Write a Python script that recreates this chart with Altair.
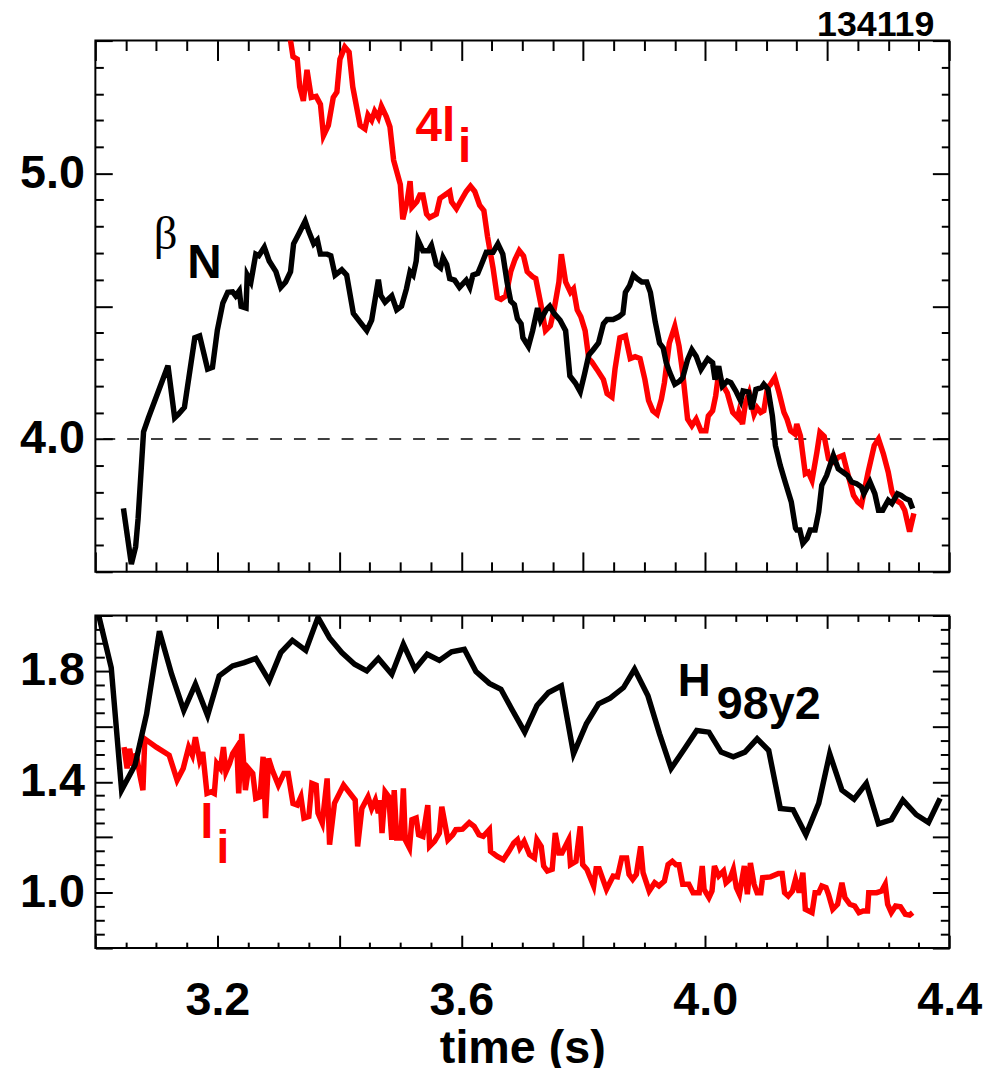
import altair as alt
import pandas as pd

# ---------------- data ----------------
bn_t = [3.046, 3.059, 3.066, 3.070, 3.079, 3.087, 3.119, 3.130, 3.136, 3.146, 3.163, 3.171, 3.184, 3.192,
        3.200, 3.209, 3.217, 3.225, 3.230, 3.236, 3.239, 3.247, 3.249, 3.255, 3.263, 3.268, 3.277, 3.285,
        3.296, 3.304, 3.312, 3.320, 3.325, 3.334, 3.344, 3.350, 3.358, 3.364, 3.369, 3.380, 3.386, 3.393,
        3.404, 3.412, 3.423, 3.434, 3.445, 3.453, 3.464, 3.468, 3.475, 3.486, 3.494, 3.502, 3.510, 3.516,
        3.521, 3.526, 3.529, 3.537, 3.546, 3.551, 3.559, 3.566, 3.570, 3.576, 3.581, 3.589, 3.597, 3.608,
        3.614, 3.619, 3.627, 3.633, 3.641, 3.652, 3.660, 3.668, 3.675, 3.681, 3.687, 3.692, 3.698, 3.701,
        3.710, 3.717, 3.725, 3.730, 3.739, 3.745, 3.752, 3.762, 3.771, 3.778, 3.787, 3.795, 3.802, 3.809,
        3.816, 3.825, 3.833, 3.839, 3.849, 3.858, 3.865, 3.869, 3.876, 3.882, 3.888, 3.896, 3.904, 3.910,
        3.918, 3.925, 3.931, 3.936, 3.942, 3.950, 3.958, 3.963, 3.971, 3.978, 3.985, 3.993, 4.004, 4.012,
        4.016, 4.022, 4.028, 4.036, 4.042, 4.050, 4.058, 4.062, 4.071, 4.076, 4.083, 4.092, 4.096, 4.103,
        4.110, 4.115, 4.123, 4.131, 4.141, 4.148, 4.150, 4.155, 4.160, 4.167, 4.172, 4.180, 4.186, 4.191,
        4.199, 4.210, 4.218, 4.226, 4.233, 4.240, 4.248, 4.256, 4.260, 4.270, 4.278, 4.284, 4.291, 4.300,
        4.306, 4.315, 4.321, 4.328, 4.335, 4.340]
bn_v = [3.739, 3.529, 3.594, 3.699, 4.027, 4.080, 4.276, 4.080, 4.093, 4.119, 4.381, 4.388, 4.263, 4.270,
        4.410, 4.512, 4.552, 4.554, 4.539, 4.558, 4.499, 4.493, 4.617, 4.591, 4.696, 4.690, 4.722, 4.670,
        4.630, 4.571, 4.591, 4.630, 4.735, 4.775, 4.821, 4.781, 4.735, 4.749, 4.696, 4.696, 4.690, 4.617,
        4.637, 4.617, 4.473, 4.440, 4.408, 4.447, 4.600, 4.540, 4.515, 4.539, 4.486, 4.500, 4.565, 4.630,
        4.617, 4.670, 4.749, 4.709, 4.709, 4.729, 4.657, 4.644, 4.683, 4.657, 4.604, 4.598, 4.571, 4.598,
        4.571, 4.617, 4.624, 4.657, 4.703, 4.703, 4.735, 4.696, 4.591, 4.519, 4.506, 4.453, 4.434, 4.381,
        4.348, 4.408, 4.493, 4.447, 4.486, 4.500, 4.473, 4.447, 4.408, 4.237, 4.211, 4.178, 4.244, 4.316,
        4.335, 4.362, 4.434, 4.450, 4.450, 4.460, 4.473, 4.552, 4.578, 4.617, 4.604, 4.591, 4.591, 4.552,
        4.440, 4.361, 4.343, 4.287, 4.249, 4.206, 4.218, 4.231, 4.299, 4.336, 4.312, 4.262, 4.302, 4.287,
        4.224, 4.274, 4.199, 4.218, 4.212, 4.181, 4.143, 4.181, 4.177, 4.112, 4.187, 4.193, 4.206, 4.187,
        4.087, 3.975, 3.900, 3.838, 3.763, 3.664, 3.657, 3.657, 3.607, 3.626, 3.657, 3.657, 3.726, 3.826,
        3.863, 3.938, 3.888, 3.875, 3.863, 3.838, 3.832, 3.819, 3.794, 3.838, 3.794, 3.732, 3.732, 3.769,
        3.757, 3.794, 3.788, 3.776, 3.769, 3.738]

li4_t = [3.316, 3.324, 3.331, 3.335, 3.341, 3.347, 3.354, 3.362, 3.369, 3.374, 3.382, 3.390, 3.396, 3.401,
         3.409, 3.416, 3.422, 3.434, 3.442, 3.447, 3.453, 3.458, 3.464, 3.469, 3.477, 3.483, 3.489, 3.500,
         3.504, 3.511, 3.516, 3.519, 3.527, 3.532, 3.537, 3.543, 3.548, 3.559, 3.565, 3.573, 3.581, 3.584,
         3.592, 3.600, 3.608, 3.615, 3.622, 3.630, 3.637, 3.643, 3.652, 3.659, 3.665, 3.673, 3.681, 3.688,
         3.695, 3.702, 3.708, 3.717, 3.722, 3.730, 3.738, 3.746, 3.752, 3.760, 3.764, 3.771, 3.779, 3.784,
         3.790, 3.796, 3.803, 3.809, 3.814, 3.822, 3.833, 3.839, 3.847, 3.852, 3.860, 3.869, 3.877, 3.885,
         3.893, 3.901, 3.907, 3.914, 3.921, 3.928, 3.933, 3.941, 3.950, 3.957, 3.963, 3.971, 3.978, 3.985,
         3.993, 4.001, 4.005, 4.012, 4.017, 4.022, 4.028, 4.036, 4.045, 4.053, 4.055, 4.061, 4.066, 4.072,
         4.080, 4.085, 4.091, 4.096, 4.102, 4.107, 4.114, 4.121, 4.129, 4.134, 4.140, 4.147, 4.150, 4.156,
         4.164, 4.169, 4.175, 4.183, 4.188, 4.195, 4.202, 4.210, 4.218, 4.226, 4.233, 4.243, 4.250, 4.256,
         4.267, 4.277, 4.284, 4.292, 4.300, 4.306, 4.313, 4.321, 4.327, 4.335, 4.342]
li4_v = [5.560, 5.440, 5.430, 5.326, 5.273, 5.390, 5.286, 5.290, 5.260, 5.142, 5.181, 5.286, 5.306, 5.430,
         5.476, 5.457, 5.326, 5.181, 5.168, 5.220, 5.200, 5.234, 5.210, 5.253, 5.214, 5.175, 5.050, 4.958,
         4.827, 4.893, 4.971, 4.873, 4.893, 4.919, 4.919, 4.847, 4.834, 4.847, 4.906, 4.919, 4.932, 4.893,
         4.867, 4.900, 4.932, 4.952, 4.932, 4.880, 4.860, 4.762, 4.644, 4.532, 4.526, 4.539, 4.630, 4.676,
         4.709, 4.689, 4.630, 4.611, 4.604, 4.512, 4.408, 4.427, 4.486, 4.591, 4.696, 4.591, 4.552, 4.565,
         4.486, 4.460, 4.408, 4.303, 4.290, 4.263, 4.224, 4.171, 4.158, 4.263, 4.381, 4.388, 4.303, 4.310,
         4.303, 4.224, 4.145, 4.106, 4.093, 4.150, 4.212, 4.361, 4.424, 4.349, 4.249, 4.075, 4.050, 4.075,
         4.031, 4.031, 4.087, 4.106, 4.162, 4.249, 4.206, 4.174, 4.100, 4.081, 4.100, 4.056, 4.137, 4.174,
         4.093, 4.118, 4.100, 4.106, 4.193, 4.206, 4.231, 4.174, 4.100, 4.075, 4.031, 4.019, 4.056, 4.012,
         3.869, 3.875, 3.844, 3.950, 4.025, 4.010, 3.925, 3.913, 3.931, 3.938, 3.875, 3.788, 3.763, 3.751,
         3.875, 3.975, 4.000, 3.944, 3.875, 3.801, 3.769, 3.757, 3.732, 3.651, 3.720]

h98_t = [3.000, 3.026, 3.043, 3.065, 3.084, 3.105, 3.125, 3.145, 3.164, 3.184, 3.203, 3.225, 3.244, 3.263,
         3.285, 3.304, 3.323, 3.345, 3.365, 3.384, 3.404, 3.425, 3.445, 3.464, 3.486, 3.505, 3.524, 3.544,
         3.564, 3.584, 3.605, 3.624, 3.646, 3.665, 3.684, 3.704, 3.724, 3.743, 3.764, 3.784, 3.805, 3.825,
         3.844, 3.866, 3.884, 3.906, 3.925, 3.944, 3.966, 3.986, 4.006, 4.026, 4.046, 4.065, 4.085, 4.104,
         4.123, 4.144, 4.165, 4.186, 4.204, 4.224, 4.244, 4.264, 4.284, 4.305, 4.324, 4.346, 4.366, 4.385]
h98_v = [2.050, 1.812, 1.370, 1.460, 1.645, 1.943, 1.788, 1.657, 1.752, 1.639, 1.782, 1.818, 1.830, 1.845,
         1.764, 1.866, 1.910, 1.874, 1.993, 1.919, 1.866, 1.824, 1.800, 1.845, 1.788, 1.896, 1.806, 1.860,
         1.838, 1.869, 1.878, 1.798, 1.755, 1.734, 1.657, 1.579, 1.675, 1.722, 1.746, 1.501, 1.609, 1.681,
         1.702, 1.740, 1.806, 1.710, 1.573, 1.448, 1.519, 1.585, 1.579, 1.507, 1.490, 1.507, 1.555, 1.513,
         1.304, 1.299, 1.209, 1.322, 1.501, 1.370, 1.337, 1.394, 1.248, 1.263, 1.334, 1.281, 1.253, 1.340]

li_t = [3.047, 3.052, 3.056, 3.061, 3.067, 3.073, 3.078, 3.081, 3.100, 3.121, 3.134, 3.144, 3.153, 3.159,
        3.164, 3.171, 3.176, 3.183, 3.190, 3.195, 3.199, 3.205, 3.210, 3.214, 3.220, 3.225, 3.232, 3.235,
        3.240, 3.246, 3.251, 3.258, 3.263, 3.270, 3.275, 3.279, 3.284, 3.290, 3.300, 3.309, 3.316, 3.324,
        3.331, 3.337, 3.342, 3.350, 3.355, 3.362, 3.365, 3.372, 3.380, 3.384, 3.392, 3.407, 3.426, 3.430,
        3.437, 3.447, 3.453, 3.459, 3.464, 3.467, 3.470, 3.475, 3.481, 3.486, 3.490, 3.494, 3.501, 3.505,
        3.508, 3.515, 3.519, 3.526, 3.530, 3.537, 3.545, 3.548, 3.556, 3.564, 3.568, 3.578, 3.586, 3.591,
        3.602, 3.613, 3.621, 3.629, 3.636, 3.646, 3.648, 3.659, 3.669, 3.678, 3.686, 3.692, 3.696, 3.703,
        3.712, 3.720, 3.724, 3.731, 3.735, 3.741, 3.749, 3.754, 3.760, 3.765, 3.776, 3.779, 3.788, 3.795,
        3.799, 3.806, 3.817, 3.821, 3.826, 3.838, 3.849, 3.856, 3.863, 3.871, 3.875, 3.881, 3.887, 3.894,
        3.898, 3.908, 3.917, 3.924, 3.933, 3.939, 3.946, 3.952, 3.957, 3.963, 3.973, 3.980, 3.990, 3.995,
        3.998, 4.006, 4.011, 4.015, 4.022, 4.030, 4.034, 4.040, 4.046, 4.051, 4.056, 4.064, 4.069, 4.074,
        4.080, 4.085, 4.091, 4.094, 4.107, 4.120, 4.126, 4.130, 4.136, 4.143, 4.148, 4.154, 4.160, 4.164,
        4.175, 4.180, 4.186, 4.191, 4.198, 4.202, 4.209, 4.217, 4.224, 4.229, 4.237, 4.245, 4.252, 4.259,
        4.266, 4.268, 4.281, 4.289, 4.295, 4.299, 4.305, 4.312, 4.320, 4.328, 4.335, 4.340]
li_v = [1.525, 1.448, 1.519, 1.460, 1.501, 1.424, 1.370, 1.555, 1.525, 1.496, 1.406, 1.448, 1.525, 1.496,
        1.561, 1.478, 1.507, 1.358, 1.364, 1.358, 1.466, 1.448, 1.525, 1.436, 1.466, 1.501, 1.525, 1.358,
        1.573, 1.370, 1.448, 1.430, 1.340, 1.346, 1.490, 1.269, 1.484, 1.442, 1.388, 1.430, 1.430, 1.322,
        1.316, 1.346, 1.269, 1.275, 1.394, 1.388, 1.287, 1.251, 1.412, 1.173, 1.322, 1.388, 1.334, 1.167,
        1.304, 1.346, 1.304, 1.334, 1.287, 1.334, 1.215, 1.364, 1.346, 1.191, 1.370, 1.197, 1.197, 1.376,
        1.191, 1.161, 1.263, 1.269, 1.209, 1.203, 1.316, 1.167, 1.185, 1.215, 1.310, 1.191, 1.209, 1.227,
        1.229, 1.253, 1.239, 1.209, 1.203, 1.227, 1.149, 1.131, 1.119, 1.149, 1.179, 1.191, 1.161, 1.185,
        1.137, 1.125, 1.191, 1.167, 1.096, 1.078, 1.084, 1.215, 1.143, 1.143, 1.191, 1.101, 1.113, 1.239,
        1.101, 1.084, 1.024, 1.086, 1.086, 1.012, 1.060, 1.057, 1.125, 1.125, 1.066, 1.048, 1.066, 1.167,
        1.072, 1.006, 1.036, 1.024, 1.042, 1.101, 1.113, 1.101, 1.101, 1.030, 1.030, 1.000, 1.000, 1.096,
        1.012, 0.982, 1.006, 1.096, 1.060, 1.078, 1.036, 1.048, 1.084, 1.018, 0.994, 1.096, 0.994, 1.107,
        1.030, 1.000, 1.000, 1.054, 1.057, 1.069, 1.069, 1.000, 0.988, 1.006, 1.048, 1.000, 1.072, 0.940,
        0.928, 1.000, 1.000, 1.024, 1.018, 0.994, 0.940, 0.958, 1.036, 0.982, 0.958, 0.952, 0.928, 0.934,
        0.934, 1.000, 1.000, 1.006, 1.030, 0.958, 0.928, 0.952, 0.949, 0.922, 0.919, 0.928]

ref_level = [4.0]

# annotation texts (positions in data units)
shot_text = ["134119"]
shot_t = [4.3756]
shot_v = [5.5168]
top_bold_text = ["N", "4l", "i"]
top_bold_t = [3.179, 3.5575, 3.6056]
top_bold_v = [4.608, 5.121, 5.042]
top_bold_color = ["black", "red", "red"]
beta_text = ["β"]
beta_t = [3.115]
beta_v = [4.716]
bot_text = ["H", "98y2", "l", "i"]
bot_t = [3.982, 4.104, 3.183, 3.209]
bot_v = [1.708, 1.626, 1.196, 1.106]
bot_color = ["black", "black", "red", "red"]
bot_size = [46, 47, 48, 46]

x_labels = [3.2, 3.6, 4.0, 4.4]
top_y_labels = [4.0, 5.0]
bot_y_labels = [1.0, 1.4, 1.8]
x_ticks = [round(3.0 + 0.05 * i, 2) for i in range(29)]
top_y_ticks = [round(3.5 + 0.1 * i, 1) for i in range(21)]
bot_y_ticks = [round(0.8 + 0.05 * i, 2) for i in range(25)]

# ---------------- layout ----------------
FONT = "Liberation Sans"
W = 860
H_TOP = 535
H_BOT = 335
LBL = 47
LW = 5.5

xs = alt.Scale(domain=[3.0, 4.4], nice=False, zero=False)
ys_top = alt.Scale(domain=[3.5, 5.5], nice=False, zero=False)
ys_bot = alt.Scale(domain=[0.8, 2.0], nice=False, zero=False)

MAJ02 = "abs(datum.value*5 - round(datum.value*5)) < 0.001"
MAJ05 = "abs(datum.value*2 - round(datum.value*2)) < 0.001"


def tick_axis(orient, offset, values, test, major, minor):
    return alt.Axis(orient=orient, offset=offset, values=values, labels=False, domain=False,
                    grid=False, title=None, tickColor="black", tickWidth=2, minExtent=0,
                    tickSize={"condition": {"test": test, "value": major}, "value": minor})


def ylabel_axis(values):
    return alt.Axis(orient="left", values=values, ticks=False, tickSize=0, domain=False, grid=False,
                    title=None, format=".1f", labelFont=FONT, labelFontSize=LBL, labelFontWeight="bold",
                    labelColor="black", labelPadding=11, minExtent=87, maxExtent=87, labelOverlap=False)


xlabel_axis = alt.Axis(orient="bottom", values=x_labels, ticks=False, tickSize=0, domain=False,
                       grid=False, title="time (s)", format=".1f", labelFont=FONT, labelFontSize=LBL,
                       labelFontWeight="bold", labelColor="black", labelPadding=30, labelFlush=False,
                       labelOverlap=False, titleFont=FONT, titleFontSize=LBL, titleFontWeight="bold",
                       titleColor="black", titlePadding=2)


def line_layer(ts, vs, color, ys, xaxis, yaxis):
    df = pd.DataFrame({"t": ts, "v": vs})
    return alt.Chart(df).mark_line(color=color, strokeWidth=LW, clip=True).encode(
        x=alt.X("t:Q", scale=xs, axis=xaxis),
        y=alt.Y("v:Q", scale=ys, axis=yaxis),
        order="t:Q",
    )


def text_layer(texts, ts, vs, ys, font, weight, size_field=None, size=None, color_field=None,
               color=None, xaxis=None, yaxis=None, align="center"):
    df = pd.DataFrame({"t": ts, "v": vs, "label": texts})
    props = dict(font=font, fontWeight=weight, align=align, baseline="alphabetic")
    if size is not None:
        props["fontSize"] = size
    if color is not None:
        props["color"] = color
    enc = dict(x=alt.X("t:Q", scale=xs, axis=xaxis), y=alt.Y("v:Q", scale=ys, axis=yaxis),
               text="label:N")
    if color_field is not None:
        df["c"] = color_field
        enc["color"] = alt.Color("c:N", scale=None)
    if size_field is not None:
        df["s"] = size_field
        enc["size"] = alt.Size("s:Q", scale=None)
    return alt.Chart(df).mark_text(**props).encode(**enc)


# top panel
ref = alt.Chart(pd.DataFrame({"v": ref_level})).mark_rule(
    color="black", strokeWidth=1.5, strokeDash=[12, 12]).encode(
    y=alt.Y("v:Q", scale=ys_top, axis=None))

top = alt.layer(
    ref,
    line_layer(li4_t, li4_v, "#ff0000", ys_top,
               tick_axis("bottom", -H_TOP, x_ticks, MAJ02, 20, 10),
               tick_axis("right", -W, top_y_ticks, MAJ05, 17, 8)),
    line_layer(bn_t, bn_v, "black", ys_top,
               tick_axis("top", -H_TOP, x_ticks, MAJ02, 20, 10),
               ylabel_axis(top_y_labels)),
    text_layer(beta_text, beta_t, beta_v, ys_top, "Liberation Serif", "normal", size=47,
               color="black", yaxis=tick_axis("left", -W, top_y_ticks, MAJ05, 17, 8)),
    text_layer(top_bold_text, top_bold_t, top_bold_v, ys_top, FONT, "bold", size=48,
               color_field=top_bold_color),
    text_layer(shot_text, shot_t, shot_v, ys_top, FONT, "bold", size=36, color="black",
               align="right"),
).resolve_axis(x="independent", y="independent").properties(width=W, height=H_TOP)

bottom = alt.layer(
    line_layer(li_t, li_v, "#ff0000", ys_bot,
               tick_axis("top", -H_BOT, x_ticks, MAJ02, 13, 6),
               tick_axis("right", -W, bot_y_ticks, MAJ02, 17, 9)),
    line_layer(h98_t, h98_v, "black", ys_bot, xlabel_axis, ylabel_axis(bot_y_labels)),
    text_layer(bot_text, bot_t, bot_v, ys_bot, FONT, "bold", size_field=bot_size,
               color_field=bot_color,
               xaxis=tick_axis("bottom", -H_BOT, x_ticks, MAJ02, 13, 6),
               yaxis=tick_axis("left", -W, bot_y_ticks, MAJ02, 17, 9)),
).resolve_axis(x="independent", y="independent").properties(width=W, height=H_BOT)

chart = alt.vconcat(top, bottom, spacing=40).properties(
    padding={"top": -6, "left": 0, "right": 0, "bottom": 0}, background="white"
).configure_view(stroke="black", strokeWidth=2)

chart.save("out.html", embed_options={"renderer": "svg", "actions": False})
